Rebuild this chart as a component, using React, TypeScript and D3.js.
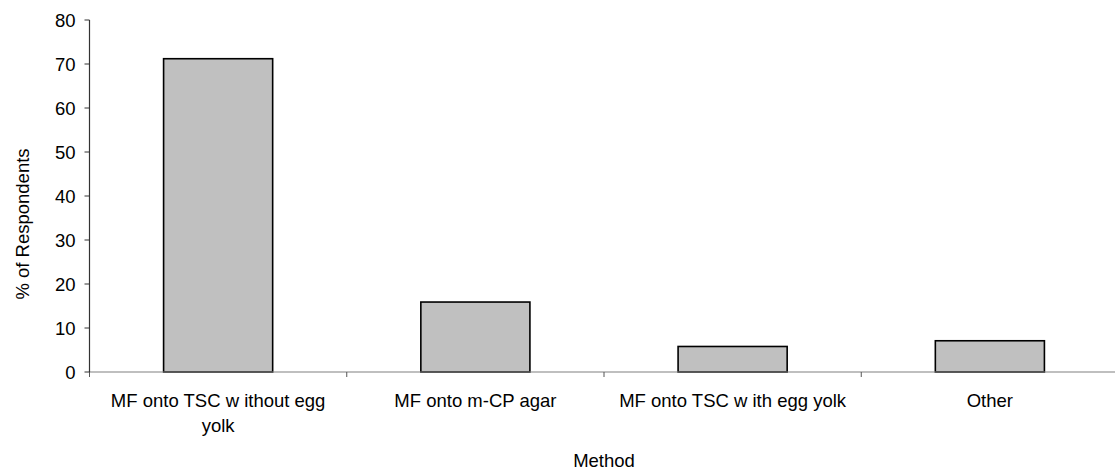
import React from "react";
import * as d3 from "d3";

const categories = ["MF onto TSC w ithout egg|yolk", "MF onto m-CP agar", "MF onto TSC w ith egg yolk", "Other"];
const values = [71.2, 15.9, 5.8, 7.1];
const yTicks = [0, 10, 20, 30, 40, 50, 60, 70, 80];

const W = 1115;
const H = 472;
const left = 89.5;
const right = 1118.5;
const top = 20;
const bottom = 372;
const FONT = "'Liberation Sans', Arial, sans-serif";
const FS = 18.5;

export default function App() {
  const x = d3.scaleBand<string>().domain(categories).range([left, right]).paddingInner(0.576).paddingOuter(0.288);
  const y = d3.scaleLinear().domain([0, 80]).range([bottom, top]);
  const step = x.step();
  const boundaries = d3.range(categories.length + 1).map((i) => left + i * step);
  return (
    <svg width={W} height={H} style={{ position: "absolute", left: 0, top: 0, background: "#fff" }}>
      {categories.map((c, i) => (
        <rect
          key={c}
          x={x(c)}
          y={y(values[i])}
          width={x.bandwidth()}
          height={bottom - y(values[i])}
          fill="#c0c0c0"
          stroke="#000"
          strokeWidth={1.6}
        />
      ))}
      <line x1={left} x2={right} y1={bottom} y2={bottom} stroke="#808080" strokeWidth={1.2} />
      {boundaries.map((b, i) => (
        <line key={i} x1={b} x2={b} y1={bottom} y2={bottom + 5} stroke="#555" strokeWidth={1} />
      ))}
      <line x1={left} x2={left} y1={top} y2={bottom} stroke="#333" strokeWidth={1.2} />
      {yTicks.map((t) => (
        <g key={t}>
          <line x1={left - 5} x2={left} y1={y(t)} y2={y(t)} stroke="#333" strokeWidth={1} />
          <text x={left - 14} y={y(t)} dy="0.36em" textAnchor="end" fontFamily={FONT} fontSize={FS} fill="#000">
            {t}
          </text>
        </g>
      ))}
      {categories.map((c) => {
        const lines = c.split("|");
        const cx = (x(c) as number) + x.bandwidth() / 2;
        return (
          <text key={c} x={cx} y={407} textAnchor="middle" fontFamily={FONT} fontSize={FS} fill="#000">
            {lines.map((l, j) => (
              <tspan key={j} x={cx} dy={j === 0 ? 0 : 25}>
                {l}
              </tspan>
            ))}
          </text>
        );
      })}
      <text x={(left + right) / 2} y={467} textAnchor="middle" fontFamily={FONT} fontSize={FS} fill="#000">
        Method
      </text>
      <text
        transform={`translate(29, 224) rotate(-90)`}
        textAnchor="middle"
        fontFamily={FONT}
        fontSize={FS}
        fill="#000"
      >
        % of Respondents
      </text>
    </svg>
  );
}
